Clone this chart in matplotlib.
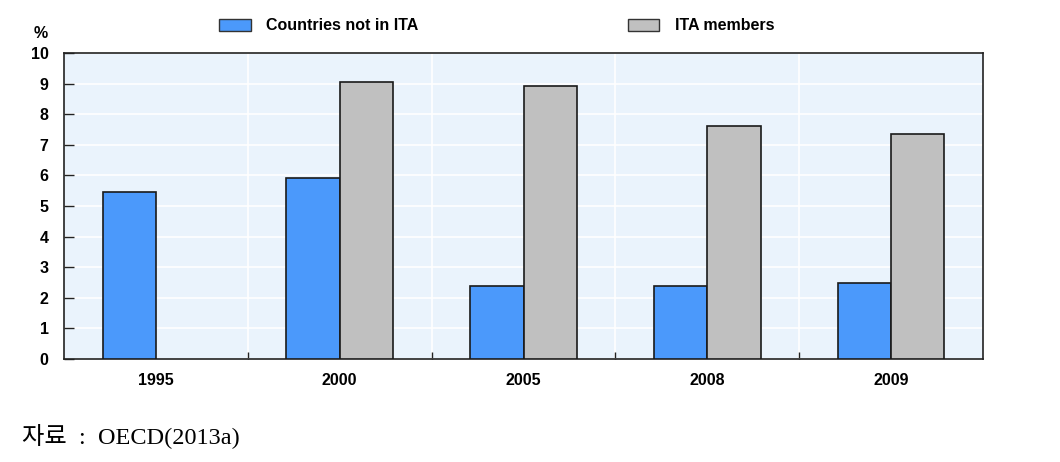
import numpy as np
import matplotlib.pyplot as plt
from matplotlib.patches import Patch

years = ['1995', '2000', '2005', '2008', '2009']
not_ita = [5.45, 5.9, 2.4, 2.4, 2.48]
ita = [np.nan, 9.05, 8.92, 7.6, 7.35]

plt.rcParams['font.family'] = ['Liberation Sans', 'DejaVu Sans']

fig = plt.figure(figsize=(10.6, 4.62), dpi=100)
ax = fig.add_axes([64/1060, 1 - 359/462, (983-64)/1060, (359-53)/462])

x = np.arange(len(years))
w = 0.29
blue = '#4b99fb'
grey = '#c0c0c0'
ax.bar(x - w/2, not_ita, w, color=blue, edgecolor='#1a1a1a', linewidth=1.2, zorder=3)
ax.bar(x + w/2, ita, w, color=grey, edgecolor='#1a1a1a', linewidth=1.2, zorder=3)

ax.set_facecolor('#eaf3fc')
ax.set_xlim(-0.5, len(years) - 0.5)
ax.set_ylim(0, 10)
ax.set_xticks(x)
ax.set_xticklabels(years, fontweight='bold', fontsize=11.5)
ax.set_yticks(range(0, 11))
for t in ax.get_yticklabels():
    t.set_fontweight('bold')
    t.set_fontsize(11.5)

# boundaries between categories: gridlines and small ticks
ax.set_xticks(np.arange(0.5, len(years) - 0.5), minor=True)
ax.tick_params(axis='x', which='major', length=0, pad=10)
ax.tick_params(axis='x', which='minor', direction='in', length=5, width=1, color='#222222')
ax.tick_params(axis='y', direction='in', length=7, width=1, pad=11, color='#222222')
ax.grid(True, axis='y', color='white', linewidth=1.2, zorder=1)
ax.grid(True, axis='x', which='minor', color='white', linewidth=1.2, zorder=1)
ax.set_axisbelow(True)
for s in ax.spines.values():
    s.set_color('#222222')
    s.set_linewidth(1.2)

fig.text(41/1060, 1 - 33/462, '%', fontweight='bold', fontsize=11.5, ha='center', va='center')

handles = [Patch(facecolor=blue, edgecolor='#333333', label='Countries not in ITA'),
           Patch(facecolor=grey, edgecolor='#333333', label='ITA members')]
leg = fig.legend(handles=handles, loc='center left', bbox_to_anchor=(205/1060, 1 - 26/462),
                 ncol=2, frameon=False, handlelength=1.95, handleheight=0.85,
                 handletextpad=1.0, columnspacing=13.1,
                 prop={'family': 'Liberation Sans', 'weight': 'bold', 'size': 11.5})

fig.text(22/1060, 1 - 436/462, '자료  :  OECD(2013a)', fontsize=17.5, va='center', ha='left',
         family=['Liberation Serif', 'Noto Sans CJK KR'])

fig.savefig('out.png', dpi=100)
